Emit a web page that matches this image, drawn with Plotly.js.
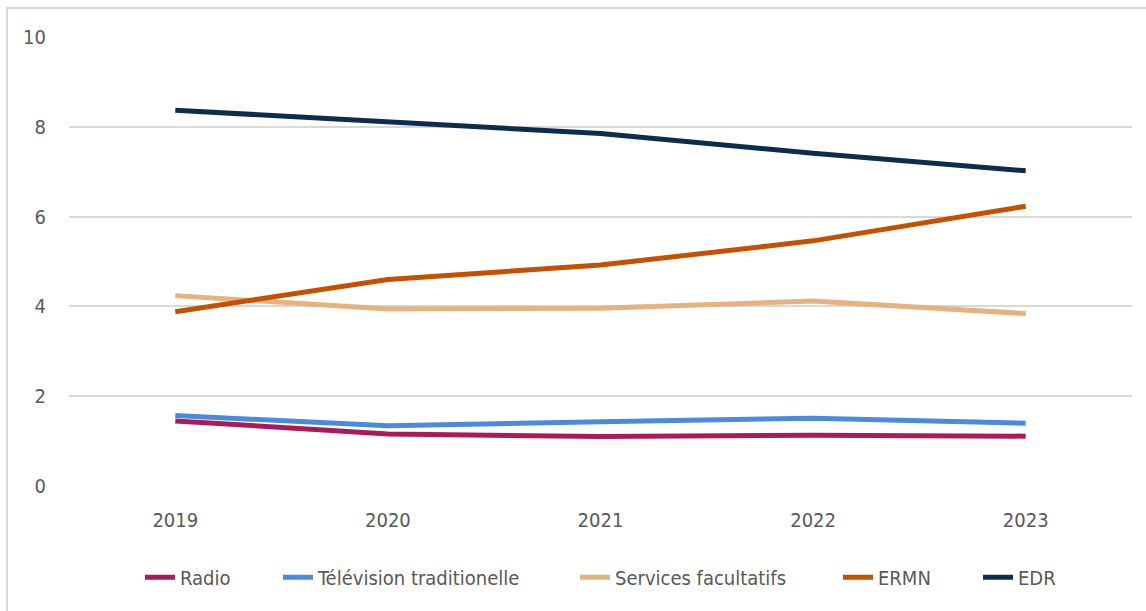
<!DOCTYPE html>
<html>
<head>
<meta charset="utf-8">
<script src="https://cdn.plot.ly/plotly-3.0.1.min.js"></script>
<style>
  html, body { margin: 0; padding: 0; background: #ffffff; }
  #frame { position: absolute; left: 6px; top: 7px; width: 1200px; height: 700px;
           border-left: 2px solid #d9d9d9; border-top: 2px solid #d9d9d9; }
  #chart { position: absolute; left: 0; top: 0; width: 1146px; height: 611px; }
</style>
</head>
<body>
<div id="frame"></div>
<div id="chart"></div>
<script>
const years = ['2019', '2020', '2021', '2022', '2023'];
const radio = [1.45, 1.16, 1.10, 1.13, 1.11];
const television = [1.57, 1.34, 1.43, 1.51, 1.40];
const services = [4.24, 3.94, 3.96, 4.12, 3.84];
const ermn = [3.88, 4.60, 4.92, 5.46, 6.23];
const edr = [8.37, 8.10, 7.85, 7.41, 7.02];
const seriesNames = ['Radio', 'Télévision traditionelle', 'Services facultatifs', 'ERMN', 'EDR'];
const yTicks = [0, 2, 4, 6, 8, 10];

const colors = ['#AE1A57', '#4A8BDE', '#E4B37F', '#C55100', '#0E2C50'];
const allSeries = [radio, television, services, ermn, edr];
const FONT = '"Liberation Sans Narrow", "DejaVu Sans Condensed", "Arial Narrow", sans-serif';
const legendIds = ['legend', 'legend2', 'legend3', 'legend4', 'legend5'];
// left edge (page px) of each legend text in the layout
const legendTextLeft = [182, 320, 617, 880, 1020];

const plotLeft = 69, plotRight = 1132;
const plotW = plotRight - plotLeft;

const traces = allSeries.map((vals, i) => ({
  x: years,
  y: vals,
  name: seriesNames[i],
  type: 'scatter',
  mode: 'lines',
  line: { color: colors[i], width: 5 },
  legend: legendIds[i],
  hoverinfo: 'x+y+name'
}));

const layout = {
  width: 1146,
  height: 611,
  margin: { l: plotLeft, r: 1146 - plotRight, t: 37, b: 125 },
  paper_bgcolor: 'rgba(0,0,0,0)',
  plot_bgcolor: 'rgba(0,0,0,0)',
  font: { family: FONT, size: 20, color: '#595959' },
  showlegend: true,
  xaxis: {
    type: 'category',
    range: [-0.5, 4.5],
    showgrid: false,
    showline: false,
    zeroline: false,
    ticks: '',
    ticklabelstandoff: 20,
    tickfont: { family: FONT, size: 20, color: '#595959' }
  },
  yaxis: {
    range: [0, 10],
    tickvals: yTicks,
    ticktext: yTicks.map(String),
    showgrid: true,
    gridcolor: '#d9d9d9',
    gridwidth: 2,
    zeroline: false,
    showline: false,
    ticks: '',
    ticklabelstandoff: 22,
    tickfont: { family: FONT, size: 20, color: '#595959' }
  }
};

legendIds.forEach((id, i) => {
  layout[id] = {
    orientation: 'h',
    x: (legendTextLeft[i] - 42 - plotLeft) / plotW,
    xanchor: 'left',
    y: -0.203,
    yanchor: 'middle',
    bgcolor: 'rgba(0,0,0,0)',
    font: { family: FONT, size: 20, color: '#595959' }
  };
});

Plotly.newPlot('chart', traces, layout, { displayModeBar: false, staticPlot: true });
</script>
</body>
</html>
